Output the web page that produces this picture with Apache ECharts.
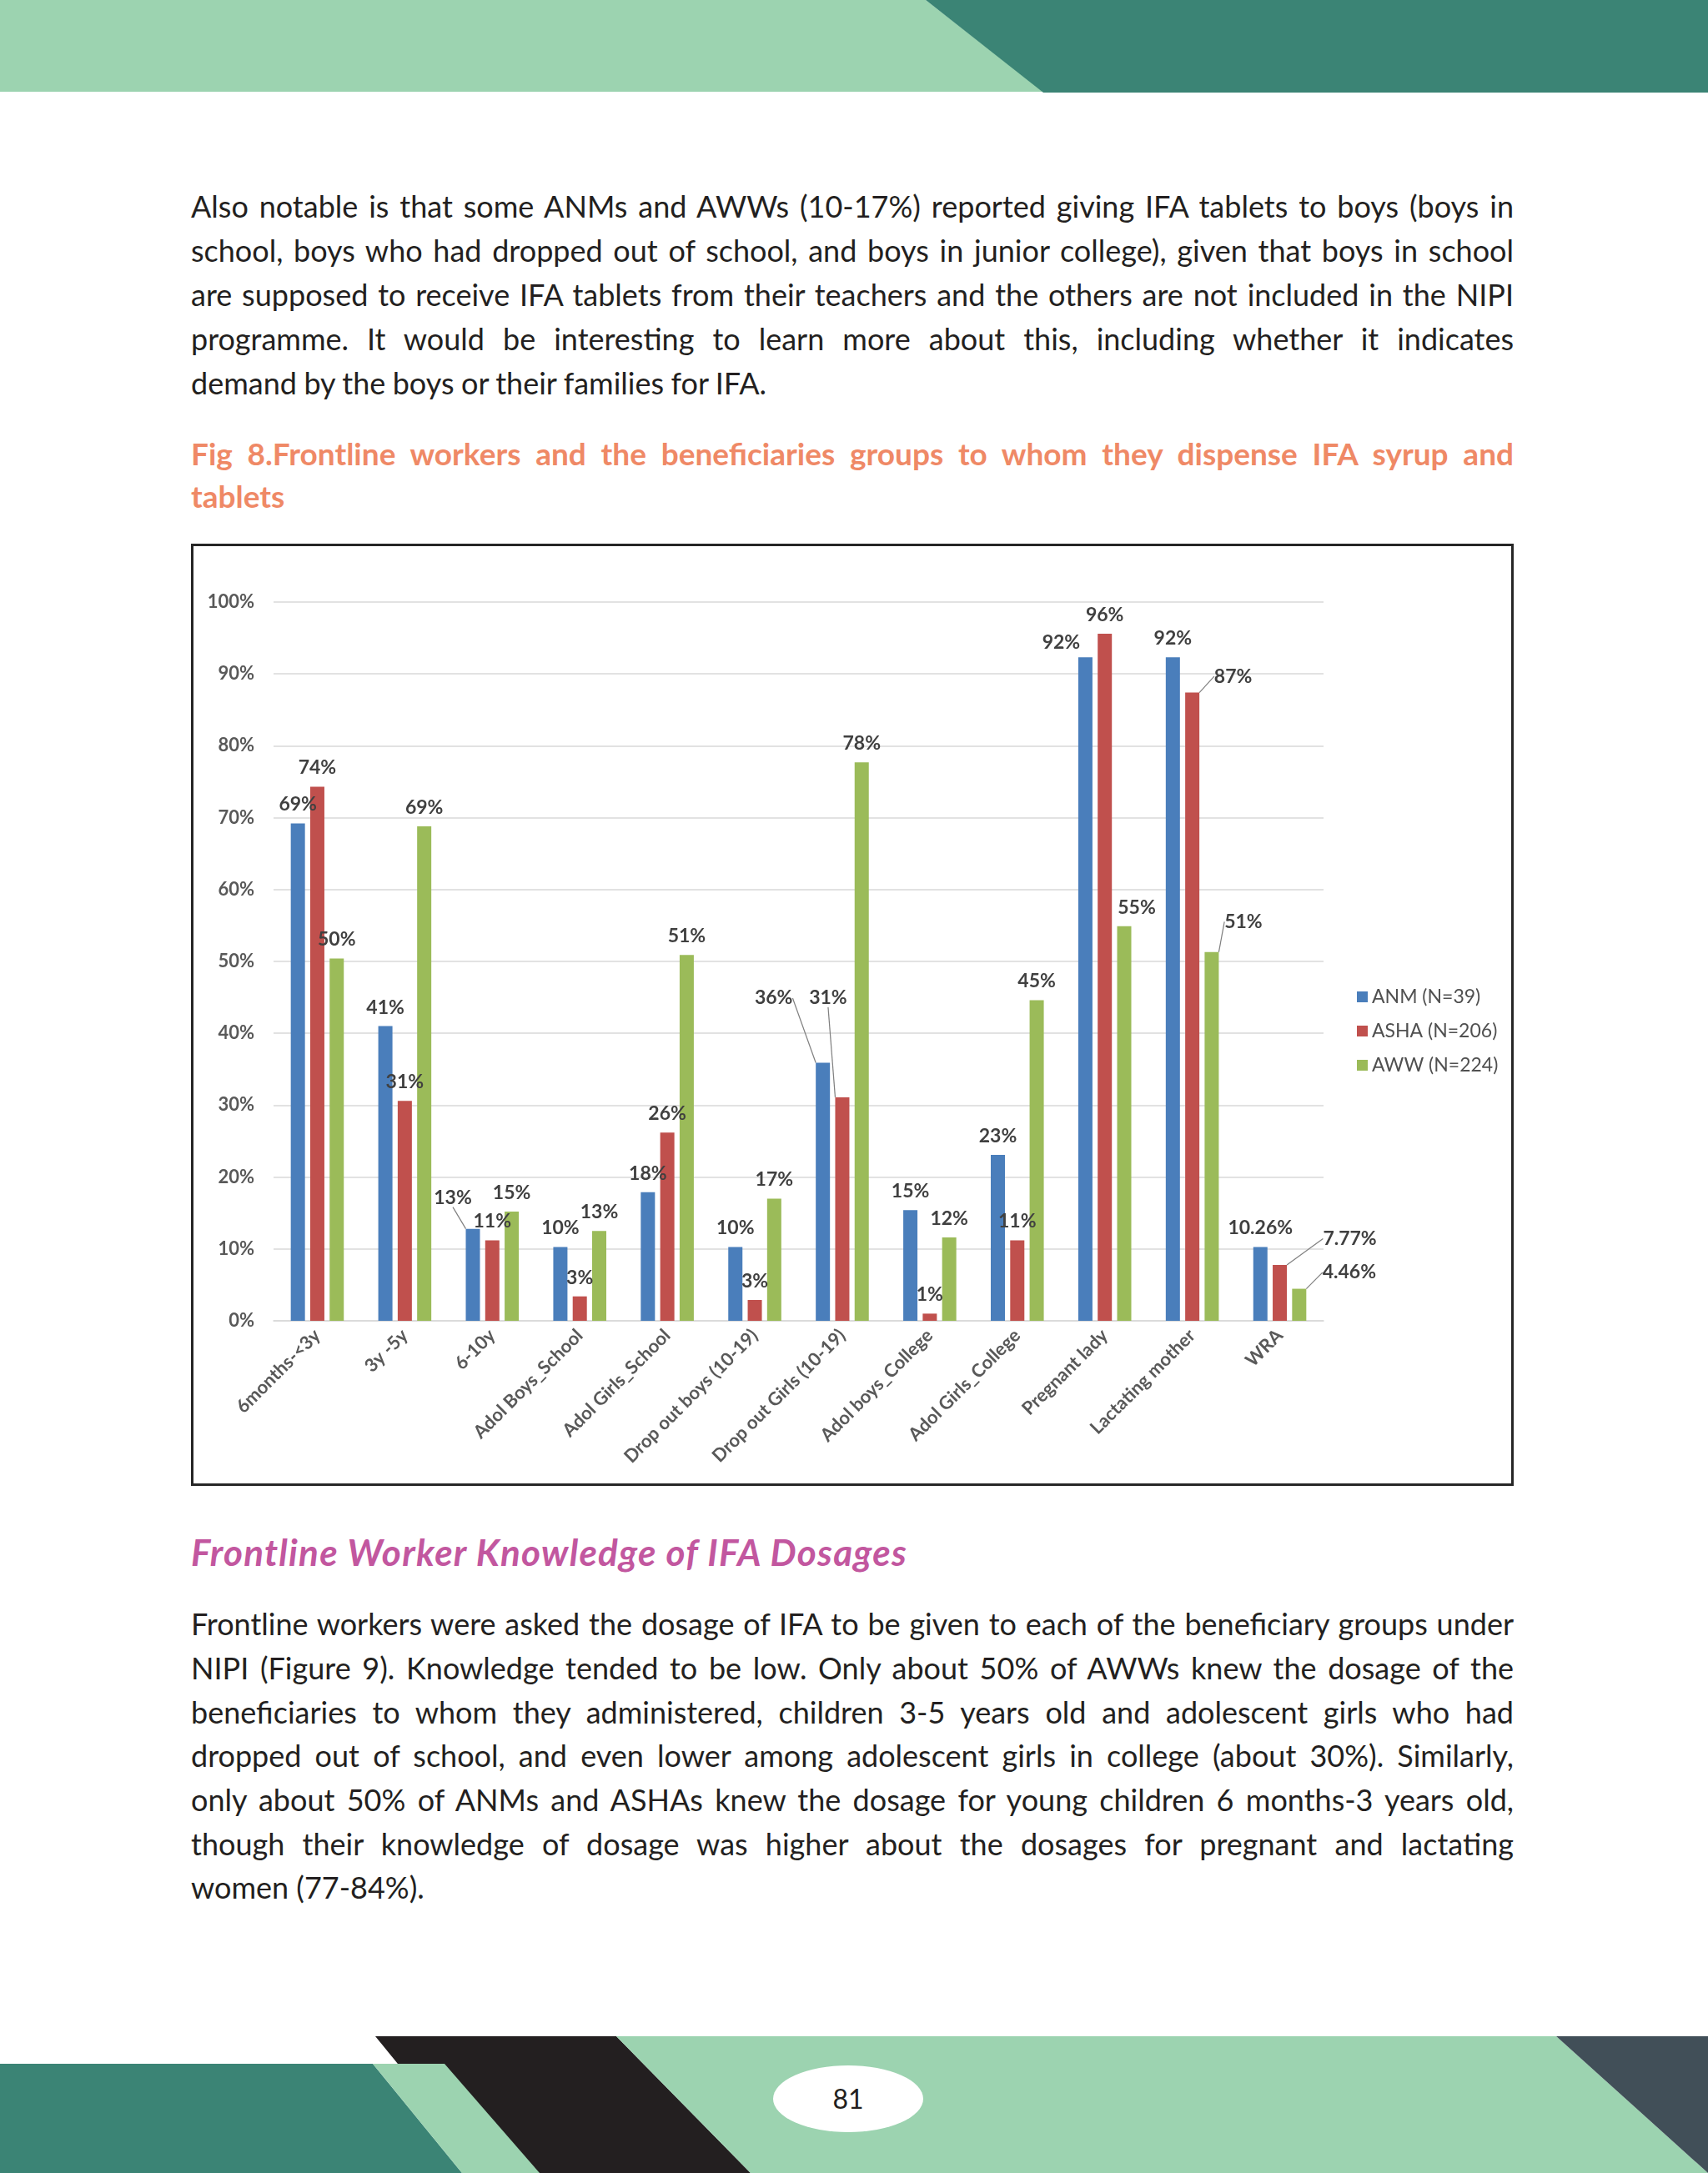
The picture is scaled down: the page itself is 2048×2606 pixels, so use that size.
<!DOCTYPE html>
<html>
<head>
<meta charset="utf-8">
<script src="https://cdn.jsdelivr.net/npm/echarts/dist/echarts.min.js"></script>
<style>
html,body{margin:0;padding:0;background:#fff;}
#page{position:relative;width:2048px;height:2606px;overflow:hidden;background:#fff;font-family:Lato,'Open Sans',sans-serif;color:#231f20;}
#deco{position:absolute;left:0;top:0;}
.ln{position:absolute;left:229px;white-space:nowrap;font-size:36px;line-height:54px;height:54px;}
.ln span{display:inline-block;}
.title{color:#ef8966;font-weight:bold;font-size:37px;}
.head{color:#c2579f;font-weight:bold;font-style:italic;font-size:44px;line-height:60px;height:60px;}
#chart{position:absolute;left:229px;top:652px;width:1586px;height:1130px;}
#frame{position:absolute;left:229px;top:652px;width:1586px;height:1130px;box-sizing:border-box;border:3px solid #262626;pointer-events:none;}
#pnum{position:absolute;left:967px;top:2492px;width:100px;height:50px;line-height:50px;text-align:center;font-size:32px;color:#231f20;}
</style>
</head>
<body>
<div id="page">
<svg id="deco" width="2048" height="2606">
  <polygon points="0,0 1110,0 1251,110 0,110" fill="#9cd3b0"/>
  <polygon points="1110,0 2048,0 2048,111 1251,111" fill="#3b8475"/>
  <polygon points="450,2442 739,2442 900,2606 584,2606" fill="#231f20"/>
  <polygon points="739,2442 1866,2442 2048,2606 900,2606" fill="#9cd3b0"/>
  <polygon points="1866,2442 2048,2442 2048,2606" fill="#414f58"/>
  <polygon points="0,2475 447,2475 554,2606 0,2606" fill="#3b8475"/>
  <polygon points="447,2475 533,2475 647,2606 554,2606" fill="#9cd3b0"/>
  <ellipse cx="1017" cy="2517" rx="90" ry="40" fill="#ffffff"/>
</svg>

<div class="ln j" style="top:220px"><span>Also notable is that some ANMs and AWWs (10-17%) reported giving IFA tablets to boys (boys in</span></div>
<div class="ln j" style="top:273px"><span>school, boys who had dropped out of school, and boys in junior college), given that boys in school</span></div>
<div class="ln j" style="top:326px"><span>are supposed to receive IFA tablets from their teachers and the others are not included in the NIPI</span></div>
<div class="ln j" style="top:379px"><span>programme. It would be interesting to learn more about this, including whether it indicates</span></div>
<div class="ln fw" data-w="690" style="top:432px"><span>demand by the boys or their families for IFA.</span></div>

<div class="ln j title" style="top:517px"><span>Fig 8.Frontline workers and the beneficiaries groups to whom they dispense IFA syrup and</span></div>
<div class="ln title" style="top:568px"><span>tablets</span></div>

<div id="chart"></div>
<div id="frame"></div>

<div class="ln head fl" data-w="859" style="top:1831px"><span>Frontline Worker Knowledge of IFA Dosages</span></div>

<div class="ln j" style="top:1920px"><span>Frontline workers were asked the dosage of IFA to be given to each of the beneficiary groups under</span></div>
<div class="ln j" style="top:1973px"><span>NIPI (Figure 9). Knowledge tended to be low. Only about 50% of AWWs knew the dosage of the</span></div>
<div class="ln j" style="top:2026px"><span>beneficiaries to whom they administered, children 3-5 years old and adolescent girls who had</span></div>
<div class="ln j" style="top:2078px"><span>dropped out of school, and even lower among adolescent girls in college (about 30%). Similarly,</span></div>
<div class="ln j" style="top:2131px"><span>only about 50% of ANMs and ASHAs knew the dosage for young children 6 months-3 years old,</span></div>
<div class="ln j" style="top:2184px"><span>though their knowledge of dosage was higher about the dosages for pregnant and lactating</span></div>
<div class="ln fw" data-w="288" style="top:2236px"><span>women (77-84%).</span></div>

<div id="pnum">81</div>
</div>

<script>
// ---- data ----
const categories = ['6months-<3y', '3y -5y', '6-10y', 'Adol Boys_School', 'Adol Girls_School',
  'Drop out boys (10-19)', 'Drop out Girls (10-19)', 'Adol boys_College', 'Adol Girls_College',
  'Pregnant lady', 'Lactating mother', 'WRA'];
const seriesNames = ['ANM (N=39)', 'ASHA (N=206)', 'AWW (N=224)'];
const anmValues  = [69.2, 41.0, 12.8, 10.26, 17.9, 10.26, 35.9, 15.4, 23.1, 92.3, 92.3, 10.26];
const ashaValues = [74.3, 30.6, 11.2, 3.4, 26.2, 2.9, 31.1, 1.0, 11.2, 95.6, 87.4, 7.77];
const awwValues  = [50.4, 68.8, 15.2, 12.5, 50.9, 17.0, 77.7, 11.6, 44.6, 54.9, 51.3, 4.46];
const anmLabels  = ['69%', '41%', '13%', '10%', '18%', '10%', '36%', '15%', '23%', '92%', '92%', '10.26%'];
const ashaLabels = ['74%', '31%', '11%', '3%', '26%', '3%', '31%', '1%', '11%', '96%', '87%', '7.77%'];
const awwLabels  = ['50%', '69%', '15%', '13%', '51%', '17%', '78%', '12%', '45%', '55%', '51%', '4.46%'];
const yMin = 0, yMax = 100, yStep = 10;

// ---- text line fitting (justify) ----
function fitLines() {
  document.querySelectorAll('.ln').forEach(function (el) {
    const span = el.firstElementChild;
    const txt = span.textContent;
    const spaces = (txt.match(/ /g) || []).length;
    const W = el.dataset.w ? +el.dataset.w : 1586;
    let w = span.getBoundingClientRect().width;
    if (el.classList.contains('fl')) {
      span.style.letterSpacing = ((W - w) / txt.length) + 'px';
      return;
    }
    if (el.classList.contains('j')) {
      if (w > W) { span.style.letterSpacing = ((W - w) / txt.length) + 'px'; w = span.getBoundingClientRect().width; }
      if (spaces && w < W) span.style.wordSpacing = ((W - w) / spaces) + 'px';
    } else if (el.classList.contains('fw')) {
      if (spaces && w > W) span.style.wordSpacing = Math.max(-6, (W - w) / spaces) + 'px';
    }
  });
}

// ---- chart ----
const colors = ['#4a7ebb', '#c0504d', '#9bbb59'];
const labelTexts = [anmLabels, ashaLabels, awwLabels];
const labelShift = {
  '0-2': [-24, -15], '0-6': [-59, -55], '1-6': [-17, -97], '0-9': [-29, 5], '2-9': [15, 0],
  '1-10': [49, 3], '2-10': [38, -14], '1-11': [84, -9], '2-11': [60, 3]
};
const leaderKeys = ['0-2', '0-6', '1-6', '1-10', '2-10', '1-11', '2-11'];

function makeSeries(si, values) {
  return {
    name: seriesNames[si],
    type: 'bar',
    barWidth: 17,
    barGap: '37%',
    itemStyle: { color: colors[si] },
    data: values.map(function (v, i) {
      return leaderKeys.indexOf(si + '-' + i) >= 0 ? { value: v, labelLine: { show: true } } : v;
    }),
    label: {
      show: true, position: 'top', distance: 11,
      fontFamily: 'Lato', fontSize: 23, fontWeight: 'bold', color: '#404040',
      formatter: function (p) { return labelTexts[p.seriesIndex][p.dataIndex]; }
    },
    labelLine: { show: false, lineStyle: { color: '#7f7f7f', width: 1.2 } },
    labelLayout: function (p) {
      const s = labelShift[p.seriesIndex + '-' + p.dataIndex];
      return s ? { dx: s[0], dy: s[1] } : {};
    }
  };
}

function drawChart() {
  const chart = echarts.init(document.getElementById('chart'), null, { renderer: 'canvas' });
  chart.setOption({
    animation: false,
    backgroundColor: '#ffffff',
    textStyle: { fontFamily: 'Lato' },
    grid: { left: 99, right: 228, top: 70, bottom: 198, containLabel: false },
    legend: {
      orient: 'vertical', left: 1393, top: 527, itemWidth: 13, itemHeight: 13, itemGap: 18,
      icon: 'rect', data: seriesNames,
      textStyle: { fontFamily: 'Lato', fontSize: 23, color: '#505050' }
    },
    xAxis: {
      type: 'category', data: categories,
      axisTick: { show: false },
      axisLine: { lineStyle: { color: '#d9d9d9', width: 1.5 } },
      axisLabel: { interval: 0, rotate: 45, margin: 14, fontFamily: 'Lato', fontSize: 22, fontWeight: 'bold', color: '#595959' }
    },
    yAxis: {
      type: 'value', min: yMin, max: yMax, interval: yStep,
      axisLine: { show: false }, axisTick: { show: false },
      splitLine: { lineStyle: { color: '#d9d9d9', width: 1.5 } },
      axisLabel: { margin: 23, fontFamily: 'Lato', fontSize: 22, fontWeight: 'bold', color: '#595959', formatter: '{value}%' }
    },
    series: [makeSeries(0, anmValues), makeSeries(1, ashaValues), makeSeries(2, awwValues)]
  });
}

function start() { fitLines(); drawChart(); }
if (document.fonts && document.fonts.ready) { document.fonts.ready.then(start); } else { start(); }
</script>
</body>
</html>
